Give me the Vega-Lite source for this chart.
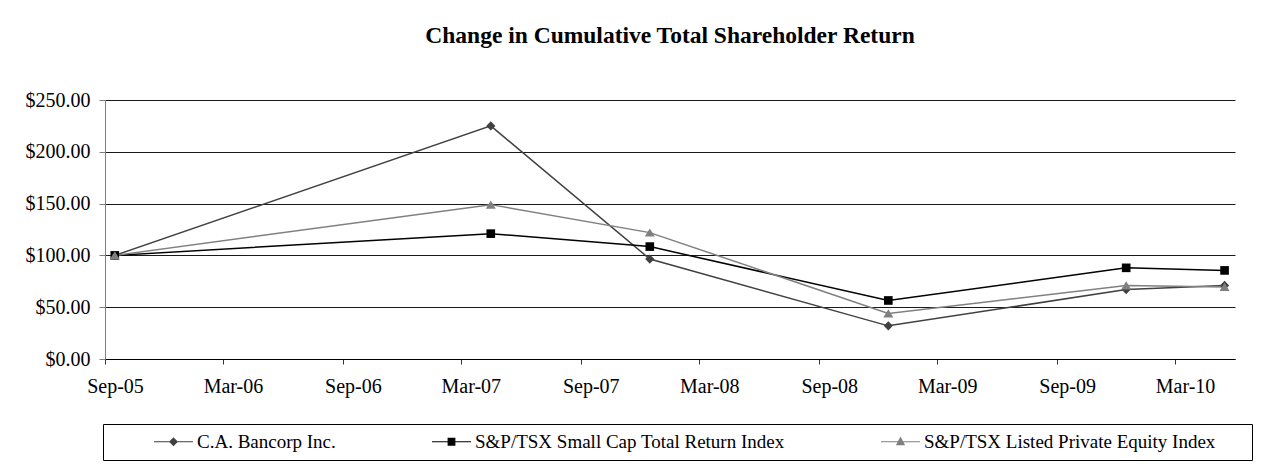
{
  "$schema": "https://vega.github.io/schema/vega-lite/v6.json",
  "width": 1130,
  "height": 259,
  "autosize": {"type": "none"},
  "padding": {"left": 105, "top": 100, "right": 40, "bottom": 105},
  "background": "white",
  "config": {"view": {"stroke": null}},
  "title": {
    "text": "Change in Cumulative Total Shareholder Return",
    "font": "Liberation Serif",
    "fontSize": 23.5,
    "fontWeight": "bold",
    "color": "black",
    "anchor": "middle",
    "frame": "group",
    "baseline": "alphabetic",
    "offset": 24
  },
  "data": {
    "values": [
      {"date": "2005-09-16", "series": "C.A. Bancorp Inc.", "value": 100},
      {"date": "2007-04-16", "series": "C.A. Bancorp Inc.", "value": 225},
      {"date": "2007-12-16", "series": "C.A. Bancorp Inc.", "value": 96.5},
      {"date": "2008-12-16", "series": "C.A. Bancorp Inc.", "value": 32},
      {"date": "2009-12-16", "series": "C.A. Bancorp Inc.", "value": 67},
      {"date": "2010-05-16", "series": "C.A. Bancorp Inc.", "value": 71},
      {"date": "2005-09-16", "series": "S&P/TSX Small Cap Total Return Index", "value": 100},
      {"date": "2007-04-16", "series": "S&P/TSX Small Cap Total Return Index", "value": 121},
      {"date": "2007-12-16", "series": "S&P/TSX Small Cap Total Return Index", "value": 108.5},
      {"date": "2008-12-16", "series": "S&P/TSX Small Cap Total Return Index", "value": 56.5},
      {"date": "2009-12-16", "series": "S&P/TSX Small Cap Total Return Index", "value": 88},
      {"date": "2010-05-16", "series": "S&P/TSX Small Cap Total Return Index", "value": 85.5},
      {"date": "2005-09-16", "series": "S&P/TSX Listed Private Equity Index", "value": 100},
      {"date": "2007-04-16", "series": "S&P/TSX Listed Private Equity Index", "value": 149},
      {"date": "2007-12-16", "series": "S&P/TSX Listed Private Equity Index", "value": 122},
      {"date": "2008-12-16", "series": "S&P/TSX Listed Private Equity Index", "value": 44},
      {"date": "2009-12-16", "series": "S&P/TSX Listed Private Equity Index", "value": 71},
      {"date": "2010-05-16", "series": "S&P/TSX Listed Private Equity Index", "value": 69.5}
    ]
  },
  "encoding": {
    "x": {
      "field": "date",
      "type": "temporal",
      "scale": {
        "type": "utc",
        "domain": [
          {"year": 2005, "month": 9, "date": 1, "utc": true},
          {"year": 2010, "month": 6, "date": 1, "utc": true}
        ]
      },
      "axis": {
        "title": null,
        "values": [
          {"year": 2005, "month": 9, "date": 1, "utc": true},
          {"year": 2006, "month": 3, "date": 1, "utc": true},
          {"year": 2006, "month": 9, "date": 1, "utc": true},
          {"year": 2007, "month": 3, "date": 1, "utc": true},
          {"year": 2007, "month": 9, "date": 1, "utc": true},
          {"year": 2008, "month": 3, "date": 1, "utc": true},
          {"year": 2008, "month": 9, "date": 1, "utc": true},
          {"year": 2009, "month": 3, "date": 1, "utc": true},
          {"year": 2009, "month": 9, "date": 1, "utc": true},
          {"year": 2010, "month": 3, "date": 1, "utc": true}
        ],
        "format": "%b-%y",
        "labelFont": "Liberation Serif",
        "labelFontSize": 20,
        "labelColor": "black",
        "labelOffset": 10,
        "labelPadding": 12,
        "labelAngle": 0,
        "labelOverlap": false,
        "labelFlush": false,
        "tickSize": 5,
        "tickColor": "#333333",
        "domainColor": "#000000",
        "grid": false
      }
    },
    "y": {
      "field": "value",
      "type": "quantitative",
      "scale": {"domain": [0, 250], "nice": false},
      "axis": {
        "title": null,
        "values": [0, 50, 100, 150, 200, 250],
        "format": "$,.2f",
        "labelFont": "Liberation Serif",
        "labelFontSize": 20,
        "labelColor": "black",
        "labelPadding": 9,
        "tickSize": 6,
        "tickColor": "#808080",
        "domainColor": "#808080",
        "grid": true,
        "gridColor": "#1a1a1a",
        "gridWidth": 1
      }
    }
  },
  "layer": [
    {
      "mark": {"type": "line", "strokeWidth": 1.5},
      "encoding": {
        "color": {
          "field": "series",
          "type": "nominal",
          "scale": {
            "domain": ["C.A. Bancorp Inc.", "S&P/TSX Small Cap Total Return Index", "S&P/TSX Listed Private Equity Index"],
            "range": ["#404040", "#000000", "#808080"]
          },
          "legend": null
        }
      }
    },
    {
      "mark": {"type": "point", "filled": true, "size": 64, "opacity": 1, "strokeWidth": 0},
      "encoding": {
        "color": {
          "field": "series",
          "type": "nominal",
          "scale": {
            "domain": ["C.A. Bancorp Inc.", "S&P/TSX Small Cap Total Return Index", "S&P/TSX Listed Private Equity Index"],
            "range": ["#404040", "#000000", "#808080"]
          },
          "legend": null
        },
        "shape": {
          "field": "series",
          "type": "nominal",
          "scale": {
            "domain": ["C.A. Bancorp Inc.", "S&P/TSX Small Cap Total Return Index", "S&P/TSX Listed Private Equity Index"],
            "range": ["M0,-1.15L1.15,0L0,1.15L-1.15,0Z", "M-1.08,-1.08L1.08,-1.08L1.08,1.08L-1.08,1.08Z", "M0,-1.05L1.25,1L-1.25,1Z"]
          },
          "legend": null
        }
      }
    },
    {
      "transform": [{"filter": "datum.value > 1000"}],
      "mark": {"type": "point", "filled": true, "size": 36, "opacity": 1, "strokeWidth": 1.2},
      "encoding": {
        "fill": {
          "field": "series",
          "type": "nominal",
          "scale": {
            "domain": ["C.A. Bancorp Inc.", "S&P/TSX Small Cap Total Return Index", "S&P/TSX Listed Private Equity Index"],
            "range": ["#404040", "#000000", "#808080"]
          }
        },
        "stroke": {
          "field": "series",
          "type": "nominal",
          "scale": {
            "domain": ["C.A. Bancorp Inc.", "S&P/TSX Small Cap Total Return Index", "S&P/TSX Listed Private Equity Index"],
            "range": ["#404040", "#000000", "#808080"]
          }
        },
        "shape": {
          "field": "series",
          "type": "nominal",
          "scale": {
            "domain": ["C.A. Bancorp Inc.", "S&P/TSX Small Cap Total Return Index", "S&P/TSX Listed Private Equity Index"],
            "range": ["M-6.5,0L6.5,0M0,-1.2L1.2,0L0,1.2L-1.2,0Z", "M-6.5,0L6.5,0M-1.1,-1.1L1.1,-1.1L1.1,1.1L-1.1,1.1Z", "M-6.5,0L6.5,0M0,-1.3L1.2,0.95L-1.2,0.95Z"]
          },
          "legend": {
            "title": " ",
            "titleOrient": "right",
            "titlePadding": 29,
            "orient": "none",
            "legendX": -2,
            "legendY": 324,
            "direction": "horizontal",
            "columns": 3,
            "strokeColor": "#000000",
            "fillColor": "white",
            "padding": 8,
            "columnPadding": 53,
            "labelFont": "Liberation Serif",
            "labelFontSize": 19,
            "labelColor": "black",
            "labelLimit": 500,
            "symbolSize": 36,
            "symbolOffset": 53,
            "labelOffset": 14,
            "symbolStrokeWidth": 1.2
          }
        }
      }
    }
  ],
  "resolve": {
    "scale": {"shape": "independent", "fill": "independent", "stroke": "independent"},
    "legend": {"shape": "independent", "fill": "independent", "stroke": "independent"}
  }
}
